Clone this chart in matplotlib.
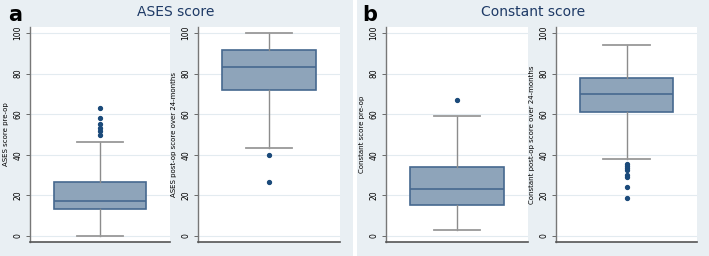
import matplotlib.pyplot as plt
from matplotlib.patches import Rectangle

# box statistics (median, quartiles, whiskers, outliers)
panel_titles = ["ASES score", "Constant score"]
panel_letters = ["a", "b"]
ylabels = ["ASES score pre-op", "ASES post-op score over 24-months",
           "Constant score pre-op", "Constant post-op score over 24-months"]

medians = [17.2, 83.3, 23.0, 70.0]
q1s = [13.1, 71.8, 15.1, 60.9]
q3s = [26.5, 91.6, 33.8, 77.7]
whislo = [0.0, 43.3, 3.0, 37.9]
whishi = [46.5, 100.0, 59.0, 94.1]
outliers = [
    [63.3, 58.3, 55.0, 53.3, 51.7, 50.0],
    [40.0, 26.6],
    [67.0],
    [35.5, 34.5, 33.5, 32.5, 30.0, 29.2, 24.0, 18.9],
]
yticks = [0, 20, 40, 60, 80, 100]

W, H = 709, 256
fig = plt.figure(figsize=(W / 100, H / 100), dpi=100)
fig.patch.set_facecolor("white")

panel_bg = "#e9eff3"
fig.patches.append(Rectangle((0, 0), 353 / W, 1, transform=fig.transFigure,
                             facecolor=panel_bg, edgecolor="none", zorder=-10))
fig.patches.append(Rectangle((357 / W, 0), (W - 357) / W, 1, transform=fig.transFigure,
                             facecolor=panel_bg, edgecolor="none", zorder=-10))

title_x = [176, 533]
letter_x = [8, 362]
for i in range(2):
    fig.text(title_x[i] / W, 1 - 12 / H, panel_titles[i], ha="center", va="center",
             fontsize=10, color="#1e3a66")
    fig.text(letter_x[i] / W, 1 - 15 / H, panel_letters[i], ha="left", va="center",
             fontsize=15, fontweight="bold", color="black")

lefts = [30, 198, 386, 556]
widths = [140, 142, 142, 141]
top, bottom = 27, 242

for k in range(4):
    ax = fig.add_axes([lefts[k] / W, 1 - bottom / H, widths[k] / W, (bottom - top) / H])
    stats = [{
        "med": medians[k], "q1": q1s[k], "q3": q3s[k],
        "whislo": whislo[k], "whishi": whishi[k], "fliers": outliers[k],
    }]
    ax.bxp(stats, positions=[0], widths=0.66, patch_artist=True,
           boxprops=dict(facecolor="#8ea4ba", edgecolor="#46688f", linewidth=1.2),
           medianprops=dict(color="#46688f", linewidth=1.2),
           whiskerprops=dict(color="#8c8c8c", linewidth=1),
           capprops=dict(color="#999999", linewidth=1.3),
           flierprops=dict(marker="o", markersize=2.8, markerfacecolor="#1b4a7a",
                           markeredgecolor="#1b4a7a"))
    ax.set_xlim(-0.5, 0.5)
    ax.set_ylim(-3, 103)
    ax.set_xticks([])
    ax.set_yticks(yticks)
    ax.set_yticklabels([str(t) for t in yticks], rotation=90, va="center", fontsize=5.5)
    ax.tick_params(axis="y", length=3, width=0.6, color="#555555", pad=2.5)
    ax.grid(axis="y", color="#e3ebf0", linewidth=0.8)
    ax.set_axisbelow(True)
    ax.set_ylabel(ylabels[k], fontsize=5, labelpad=3)
    for s in ["top", "right"]:
        ax.spines[s].set_visible(False)
    ax.spines["left"].set_color("#777777")
    ax.spines["bottom"].set_color("#555555")
    ax.spines["left"].set_linewidth(1)
    ax.spines["bottom"].set_linewidth(1.2)

fig.savefig("out.png", dpi=100)
